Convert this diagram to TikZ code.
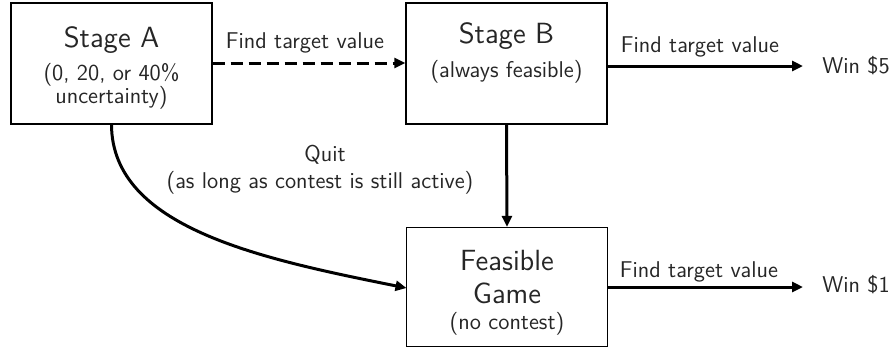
\documentclass[tikz,border=0pt]{standalone}
\usetikzlibrary{arrows.meta}
\begin{document}
\begin{tikzpicture}[x=0.5pt,y=-0.5pt,
  box/.style={draw,line width=0.7pt,minimum width=100.5pt,minimum height=60.5pt,inner sep=0pt},
  head/.style={anchor=base,inner sep=0pt,font=\sffamily\fontsize{14.6}{16}\selectfont},
  txt/.style={anchor=base,inner sep=0pt,font=\sffamily\fontsize{11.4}{13}\selectfont},
  arr/.style={line width=1.5pt,-{Triangle[length=5.5pt,width=5pt]}},
  every node/.style={text=black!85}]
\useasboundingbox (0,0) rectangle (891,350);
\node[box] (A) at (111.5,63.5) {};
\node[box] (B) at (506.5,63.5) {};
\node[box,minimum height=59.5pt] (F) at (507,287) {};
\node[head] (At) at (111.5,47) {Stage A};
\node[txt] (As1) at (111.5,80) {(0, 20, or 40\%};
\node[txt] (As2) at (111.5,103) {uncertainty)};
\node[head] (Bt) at (506.5,43) {Stage B};
\node[txt] (Bs) at (506.5,77) {(always feasible)};
\node[head] (Ft1) at (507,270) {Feasible};
\node[head] (Ft2) at (507,303) {Game};
\node[txt] (Fs) at (507,329) {(no contest)};
\node[txt] (l1) at (305,48) {Find target value};
\node[txt] (l2) at (700,52) {Find target value};
\node[txt] (l3) at (699,277) {Find target value};
\node[txt,anchor=base west] (w5) at (822,73) {Win \$5};
\node[txt,anchor=base west] (w1) at (822,292) {Win \$1};
\node[txt] (q1) at (325,161) {Quit};
\node[txt] (q2) at (320,188) {(as long as contest is still active)};
\coordinate (e5) at (803,66);
\coordinate (e1) at (803,287);
\coordinate (fw) at (406.5,288);
\draw[arr,dashed,dash pattern=on 6pt off 3pt] (A.east|-0,63) -- (B.west|-0,63);
\draw[arr] (B.east|-0,66) -- (e5);
\draw[arr] (F.east|-0,287) -- (e1);
\draw[arr] (B.south) -- (F.north);
\draw[arr] (A.south) .. controls (112,228) and (262,259) .. (fw);
\end{tikzpicture}
\end{document}
